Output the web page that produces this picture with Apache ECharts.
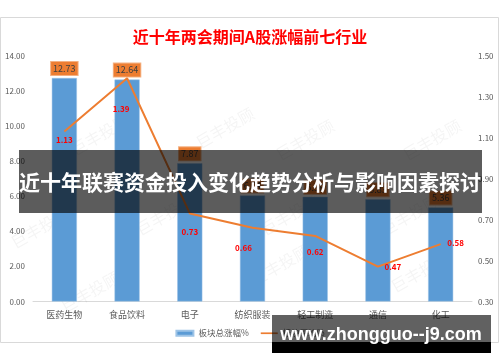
<!DOCTYPE html>
<html>
<head>
<meta charset="utf-8">
<script src="https://cdn.jsdelivr.net/npm/echarts@6/dist/echarts.min.js"></script>
<style>
html,body{margin:0;padding:0;background:#fff;}
#c{width:500px;height:362px;}
</style>
</head>
<body>
<div id="c"></div>
<script>
var categories = ['医药生物','食品饮料','电子','纺织服装','轻工制造','通信','化工'];
var totalRise = [12.73, 12.64, 7.87, 6.04, 5.96, 5.83, 5.36];
var avgRise = [1.13, 1.39, 0.73, 0.66, 0.62, 0.47, 0.58];
var leftTicks = {min: 0, max: 14, interval: 2};
var rightTicks = {min: 0.3, max: 1.5, interval: 0.2};
var titleText = '近十年两会期间A股涨幅前七行业';
var bannerText = '近十年联赛资金投入变化趋势分析与影响因素探讨';
var siteText = 'www.zhongguo--j9.com';
var seriesNames = ['板块总涨幅%','板块平均%'];

var lineLabelOffset = [[0,4],[-6,27],[0,15],[-9,16],[0,12],[15,-4],[15,-5]];

var chart = echarts.init(document.getElementById('c'));
var font = '"Noto Sans CJK SC", "Noto Sans", sans-serif';

var wm = [];
var wmPos = [[100,135],[225,128],[305,140],[432,140],[40,228],[165,215],[290,215],[410,215],[90,292],[280,265],[420,272]];
wmPos.forEach(function(p){
  wm.push({type:'text', x:p[0], y:p[1], rotation:Math.PI/6, z:1,
    style:{text:'巨丰投顾', fill:'rgba(0,0,0,0.045)', font:'16px '+font, textAlign:'center', textVerticalAlign:'middle'}});
});

var lineData = avgRise.map(function(v, i){
  return {value:v, label:{offset:lineLabelOffset[i]}};
});

chart.setOption({
  animation:false,
  textStyle:{fontFamily:font},
  title:{text:titleText, left:'center', top:24, textStyle:{color:'#FF0000', fontSize:16, fontWeight:'bold', fontFamily:font}},
  grid:{left:33, right:28, top:55.7, bottom:60.5, containLabel:false},
  legend:{top:324, left:'center', itemGap:12, itemWidth:17, itemHeight:5,
    textStyle:{color:'#595959', fontSize:8.5, fontFamily:font},
    data:[{name:seriesNames[0], icon:'rect'},{name:seriesNames[1], icon:'path://M0,0H20V2H0Z'}]},
  xAxis:{type:'category', data:categories,
    axisLine:{lineStyle:{color:'#D9D9D9'}}, axisTick:{show:false},
    axisLabel:{color:'#595959', fontSize:9, margin:9}},
  yAxis:[
    {type:'value', min:leftTicks.min, max:leftTicks.max, interval:leftTicks.interval,
      splitLine:{show:false}, axisLine:{show:false}, axisTick:{show:false},
      axisLabel:{color:'#595959', fontSize:8, margin:8, formatter:function(v){return v.toFixed(2);}}},
    {type:'value', min:rightTicks.min, max:rightTicks.max, interval:rightTicks.interval,
      splitLine:{show:false}, axisLine:{show:false}, axisTick:{show:false},
      axisLabel:{color:'#595959', fontSize:8, margin:6, formatter:function(v){return v.toFixed(2);}}}
  ],
  series:[
    {name:seriesNames[0], type:'bar', data:totalRise, barWidth:'40%',
      itemStyle:{color:'#5B9BD5', borderColor:'#9DC3E6', borderWidth:0.5},
      label:{show:true, position:'top', distance:3, color:'#404040', fontSize:9,
        backgroundColor:'#ED7D31', borderColor:'#F4B183', borderWidth:1, padding:[1,2], lineHeight:11,
        formatter:function(p){return p.value.toFixed(2);}}},
    {name:seriesNames[1], type:'line', yAxisIndex:1, data:lineData, symbol:'circle', symbolSize:0, showSymbol:true, z:5,
      lineStyle:{color:'#ED7D31', width:2}, itemStyle:{color:'#ED7D31'},
      label:{show:true, position:'bottom', distance:0, color:'#FF0000', fontSize:8, fontWeight:'bold',
        formatter:function(p){return Number(p.value).toFixed(2);}}}
  ],
  graphic:[
    {type:'rect', z:0, shape:{x:0.5, y:17.5, width:498, height:325}, style:{fill:'none', stroke:'#D9D9D9', lineWidth:1}}
  ].concat(wm).concat([
    {type:'rect', z:100, shape:{x:19, y:150, width:463, height:63}, style:{fill:'rgba(0,0,0,0.64)'}},
    {type:'text', z:101, x:250, y:182, style:{text:bannerText, fill:'#FFFFFF', font:'bold 21px '+font, textAlign:'center', textVerticalAlign:'middle'}},
    {type:'rect', z:100, shape:{x:272, y:315, width:219, height:27}, style:{fill:'rgba(0,0,0,0.62)'}},
    {type:'rect', z:100, shape:{x:272, y:342, width:219, height:11}, style:{fill:'#000000'}},
    {type:'text', z:101, x:381, y:335, style:{text:siteText, fill:'#FFFFFF', font:'bold 18px "Liberation Sans", Arial, sans-serif', textAlign:'center', textVerticalAlign:'middle'}}
  ])
});
</script>
</body>
</html>
